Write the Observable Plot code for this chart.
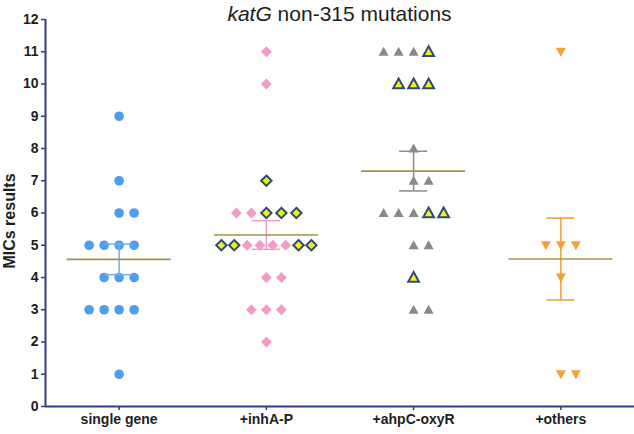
<!DOCTYPE html>
<html>
<head>
<meta charset="utf-8">
<script src="https://cdn.jsdelivr.net/npm/d3@7"></script>
<script src="https://cdn.jsdelivr.net/npm/@observablehq/plot@0.6"></script>
<style>
  html, body { margin: 0; padding: 0; background: #fff; }
  #chart { width: 634px; height: 434px; }
</style>
</head>
<body>
<div id="chart"></div>
<script>
// ---- data ----
const groups = ["single gene", "+inhA-P", "+ahpC-oxyR", "+others"];
const titleItalic = "katG";
const titleRest = " non-315 mutations";
const yLabel = "MICs results";
const yTicks = [0, 1, 2, 3, 4, 5, 6, 7, 8, 9, 10, 11, 12];

// MIC values per group, each row listed left-to-right
const singleGene = [9, 7, 6, 6, 5, 5, 5, 5, 4, 4, 4, 3, 3, 3, 3, 1];
const inhA = [11, 10, 7, 6, 6, 6, 6, 6, 5, 5, 5, 5, 5, 5, 5, 5, 4, 4, 3, 3, 3, 2];
const inhAMarked = [0, 0, 1, 0, 0, 1, 1, 1, 1, 1, 0, 0, 0, 0, 1, 1, 0, 0, 0, 0, 0, 0];
const ahpC = [11, 11, 11, 11, 10, 10, 10, 8, 7, 7, 6, 6, 6, 6, 6, 5, 5, 4, 3, 3];
const ahpCMarked = [0, 0, 0, 1, 1, 1, 1, 0, 0, 0, 0, 0, 0, 1, 1, 0, 0, 1, 0, 0];
const others = [11, 5, 5, 5, 4, 1, 1];

// ---- layout helpers ----
const W = 634, H = 434;
const mL = 45, mR = 0, mT = 19, mB = 28;
const step = (W - mL - mR) / groups.length;   // px per category
const colPx = 15;                              // px between scatter columns
const unit = colPx / step;

function layout(values, marked, g) {
  const out = [];
  const rows = d3.group(values.map((v, i) => ({v, i})), d => d.v);
  for (const [v, items] of rows) {
    const n = items.length;
    items.forEach((it, k) => {
      let off;
      if (n > 5) off = -3 + k * 6 / (n - 1);
      else off = (n === 2 ? 0 : -Math.floor(n / 2)) + k;
      out.push({g, value: v, marked: marked ? !!marked[it.i] : false, x: g + off * unit});
    });
  }
  return out;
}

const ptsSingle = layout(singleGene, null, 0);
const ptsInhA = layout(inhA, inhAMarked, 1);
const ptsAhpC = layout(ahpC, ahpCMarked, 2);
const ptsOthers = layout(others, null, 3);

const allGroups = [singleGene, inhA, ahpC, others];
const stats = allGroups.map((vals, g) => {
  const m = d3.mean(vals);
  const sem = d3.deviation(vals) / Math.sqrt(vals.length);
  return {g, mean: m, lo: m - sem, hi: m + sem};
});

// ---- symbols ----
const circleSym = {draw(ctx, size) { const s = Math.sqrt(size / Math.PI); ctx.moveTo(s, 0); ctx.arc(0, 0, s, 0, 2 * Math.PI); }};
const diamondSym = {draw(ctx, size) { const s = Math.sqrt(size / Math.PI); ctx.moveTo(0, -s); ctx.lineTo(s, 0); ctx.lineTo(0, s); ctx.lineTo(-s, 0); ctx.closePath(); }};
const triUpSym = {draw(ctx, size) { const s = Math.sqrt(size / Math.PI); ctx.moveTo(0, -s); ctx.lineTo(s, 0.8 * s); ctx.lineTo(-s, 0.8 * s); ctx.closePath(); }};
const triDownSym = {draw(ctx, size) { const s = Math.sqrt(size / Math.PI); ctx.moveTo(0, s); ctx.lineTo(s, -0.8 * s); ctx.lineTo(-s, -0.8 * s); ctx.closePath(); }};

const navy = "#343b86";
const yellow = "#f4f40c";
const markStroke = "#2c4a7c";
const meanColor = "#a0944a";
const barColors = ["#74aee9", "#f29bc6", "#8a8a8a", "#f39a3a"];
const halfMean = 52 / step;
const halfCap = 14 / step;

const chart = Plot.plot({
  width: W, height: H,
  marginLeft: mL, marginRight: mR, marginTop: mT, marginBottom: mB,
  style: {fontFamily: "'Liberation Sans', Arial, sans-serif", background: "#fff", color: "#222"},
  x: {type: "linear", domain: [-0.5, groups.length - 0.5], label: null},
  y: {domain: [0, 12], label: null},
  marks: [
    Plot.axisY({ticks: yTicks, tickSize: 4, tickPadding: 3, stroke: navy, strokeWidth: 1.5, fill: "#1e1e1e", fontWeight: "bold", fontSize: 14, label: null}),
    Plot.axisX({ticks: groups.map((d, i) => i), tickFormat: i => groups[i], tickSize: 4, tickPadding: 4, stroke: navy, strokeWidth: 1.5, fill: "#1e1e1e", fontWeight: "bold", fontSize: 14, label: null}),
    Plot.ruleX([-0.5], {stroke: navy, strokeWidth: 2}),
    Plot.ruleY([0], {stroke: navy, strokeWidth: 2}),
    // points
    Plot.dot(ptsSingle, {x: "x", y: "value", symbol: circleSym, r: 4.8, fill: "#4c9ef2", stroke: "none"}),
    Plot.dot(ptsInhA.filter(d => !d.marked), {x: "x", y: "value", symbol: diamondSym, r: 5.4, fill: "#f49ac7", stroke: "none"}),
    Plot.dot(ptsInhA.filter(d => d.marked), {x: "x", y: "value", symbol: diamondSym, r: 5.2, fill: yellow, stroke: markStroke, strokeWidth: 2}),
    Plot.dot(ptsAhpC.filter(d => !d.marked), {x: "x", y: "value", symbol: triUpSym, r: 5, fill: "#898989", stroke: "none"}),
    Plot.dot(ptsAhpC.filter(d => d.marked), {x: "x", y: "value", symbol: triUpSym, r: 5.4, fill: yellow, stroke: markStroke, strokeWidth: 2}),
    Plot.dot(ptsOthers, {x: "x", y: "value", symbol: triDownSym, r: 5, fill: "#f7a035", stroke: "none"}),
    // SEM error bars
    Plot.ruleX(stats, {x: "g", y1: "lo", y2: "hi", stroke: d => barColors[d.g], strokeWidth: 1.5}),
    Plot.ruleY(stats, {y: "lo", x1: d => d.g - halfCap, x2: d => d.g + halfCap, stroke: d => barColors[d.g], strokeWidth: 1.5}),
    Plot.ruleY(stats, {y: "hi", x1: d => d.g - halfCap, x2: d => d.g + halfCap, stroke: d => barColors[d.g], strokeWidth: 1.5}),
    // mean lines
    Plot.ruleY(stats, {y: "mean", x1: d => d.g - halfMean, x2: d => d.g + halfMean, stroke: meanColor, strokeWidth: 1.6}),
    // y label
    Plot.text([yLabel], {frameAnchor: "left", textAnchor: "middle", rotate: -90, dx: -36, dy: 8, fontWeight: "bold", fontSize: 16, fill: "#1e1e1e"})
  ]
});

// title with italic gene name
const svg = d3.select(chart);
const t = svg.append("text")
  .attr("x", mL + (W - mL - mR) / 2)
  .attr("y", 21)
  .attr("text-anchor", "middle")
  .attr("font-size", 21)
  .attr("fill", "#1e1e1e")
  .attr("font-family", "'Liberation Sans', Arial, sans-serif");
t.append("tspan").attr("font-style", "italic").text(titleItalic);
t.append("tspan").text(titleRest);

document.getElementById("chart").appendChild(chart);
</script>
</body>
</html>
